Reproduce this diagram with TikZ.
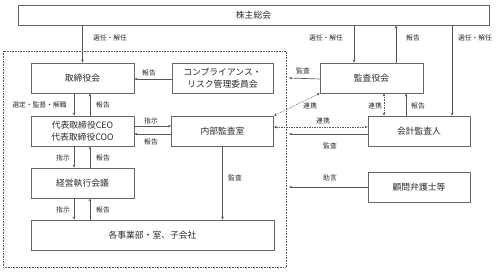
\documentclass[tikz,border=0pt]{standalone}
\usepackage{fontspec}
\setmainfont{Noto Sans CJK JP}
\usetikzlibrary{arrows.meta}
\definecolor{boxc}{HTML}{666666}
\definecolor{linec}{HTML}{555555}
\definecolor{txtc}{HTML}{2A2A2A}
\begin{document}
\begin{tikzpicture}[x=1pt,y=-1pt,
  box/.style={draw=boxc, line width=0.75pt, fill=white, inner sep=0pt, align=center,
    text=txtc, font=\fontsize{8.8}{11.5}\selectfont},
  lab/.style={inner sep=0pt, text=txtc, font=\fontsize{6.8}{7.5}\selectfont},
  arr/.style={draw=linec, line width=0.65pt, -{Stealth[length=3pt,width=2.6pt]}},
  dotarr/.style={draw=linec, line width=0.65pt, densely dotted, {Stealth[length=3pt,width=2.6pt]}-{Stealth[length=3pt,width=2.6pt]}},
  region/.style={draw=linec, line width=0.6pt, densely dotted}
]
\useasboundingbox (0,0) rectangle (501,273);
\fill[white] (0,0) rectangle (501,273);

% dotted company region
\draw[region] (3,51) rectangle (286,267);

% boxes
\node[box, minimum width=471pt, minimum height=20pt] (kabu) at (253.5,15) {株主総会};
\node[box, minimum width=103pt, minimum height=30pt] (tori) at (82.5,78) {取締役会};
\node[box, minimum width=101pt, minimum height=30pt] (comp) at (222.5,78) {コンプライアンス・\\リスク管理委員会};
\node[box, minimum width=103pt, minimum height=30pt] (kansa) at (371.5,78) {監査役会};
\node[box, minimum width=103pt, minimum height=30pt] (ceo) at (82.5,131) {代表取締役CEO\\代表取締役COO};
\node[box, minimum width=102pt, minimum height=30pt] (naibu) at (222.5,131) {内部監査室};
\node[box, minimum width=102pt, minimum height=30pt] (kaikei) at (419,131) {会計監査人};
\node[box, minimum width=103pt, minimum height=30pt] (keiei) at (82.5,183) {経営執行会議};
\node[box, minimum width=243pt, minimum height=30pt] (kaku) at (152.5,235) {各事業部・室、子会社};
\node[box, minimum width=102pt, minimum height=30pt] (komon) at (419,187) {顧問弁護士等};

% free ends on the region border
\coordinate (rk1) at (289,78);
\coordinate (rk2) at (289,134);
\coordinate (rk3) at (289,187);

% shareholders
\draw[arr] (kabu.south -| tori) -- (tori.north);
\node[lab] (l1) at (110,38) {選任・解任};
\draw[arr] ([xshift=-17.5pt]kansa.north |- kabu.south) -- ([xshift=-17.5pt]kansa.north);
\node[lab] (l2) at (326,38) {選任・解任};
\draw[arr] ([xshift=24.5pt]kansa.north) -- ([xshift=24.5pt]kansa.north |- kabu.south);
\node[lab] (l3) at (413,38) {報告};
\draw[arr] ([xshift=33pt]kaikei.north |- kabu.south) -- ([xshift=33pt]kaikei.north);
\node[lab] (l4) at (475,38) {選任・解任};

% compliance -> board
\draw[arr] ([yshift=-1pt]comp.west) -- ([yshift=-1pt]tori.east);
\node[lab] (l5) at (149,73) {報告};
% audit board -> region
\draw[arr] ([yshift=-1pt]kansa.west) -- (rk1);
\node[lab] (l6) at (303,71) {監査};

% board <-> CEO
\draw[arr] ([xshift=-8.5pt]tori.south) -- ([xshift=-8.5pt]ceo.north);
\node[lab] (l7) at (39.5,105) {選定・監督・解職};
\draw[arr] ([xshift=7.5pt]ceo.north) -- ([xshift=7.5pt]tori.south);
\node[lab] (l8) at (103,105) {報告};

% CEO <-> internal audit
\draw[arr] ([yshift=5pt]ceo.east) -- ([yshift=5pt]ceo.east -| naibu.west);
\node[lab] (l9) at (151,121) {指示};
\draw[arr] ([yshift=-3pt]naibu.west) -- ([yshift=-3pt]naibu.west -| ceo.east);
\node[lab] (l10) at (151,142) {報告};

% cooperation links
\draw[dotarr] (naibu.north east) -- (kansa.south west);
\node[lab] (l11) at (310,106) {連携};
\draw[dotarr] ([xshift=12.5pt]kansa.south) -- ([xshift=12.5pt]kansa.south |- kaikei.north);
\node[lab] (l12) at (375,106) {連携};
\draw[arr] ([xshift=-13pt]kaikei.north) -- ([xshift=-13pt]kaikei.north |- kansa.south);
\node[lab] (l13) at (418,106) {報告};
\draw[dotarr] ([yshift=4pt]naibu.east) -- ([yshift=4pt]naibu.east -| kaikei.west);
\node[lab] (l14) at (323,121) {連携};

% accountant & lawyer -> region
\draw[arr] ([yshift=-3pt]kaikei.west) -- (rk2);
\node[lab] (l15) at (330,146) {監査};
\draw[arr] (komon.west) -- (rk3);
\node[lab] (l16) at (330,178) {助言};

% internal audit -> divisions
\draw[arr] (naibu.south) -- (naibu.south |- kaku.north);
\node[lab] (l17) at (235,178) {監査};

% CEO <-> executive meeting
\draw[arr] ([xshift=-8.5pt]ceo.south) -- ([xshift=-8.5pt]keiei.north);
\node[lab] (l18) at (63,158) {指示};
\draw[arr] ([xshift=7.5pt]keiei.north) -- ([xshift=7.5pt]ceo.south);
\node[lab] (l19) at (103,158) {報告};

% executive meeting <-> divisions
\draw[arr] ([xshift=-8.5pt]keiei.south) -- ([xshift=-8.5pt]keiei.south |- kaku.north);
\node[lab] (l20) at (63,210) {指示};
\draw[arr] ([xshift=7.5pt]keiei.south |- kaku.north) -- ([xshift=7.5pt]keiei.south);
\node[lab] (l21) at (103,210) {報告};
\end{tikzpicture}
\end{document}
